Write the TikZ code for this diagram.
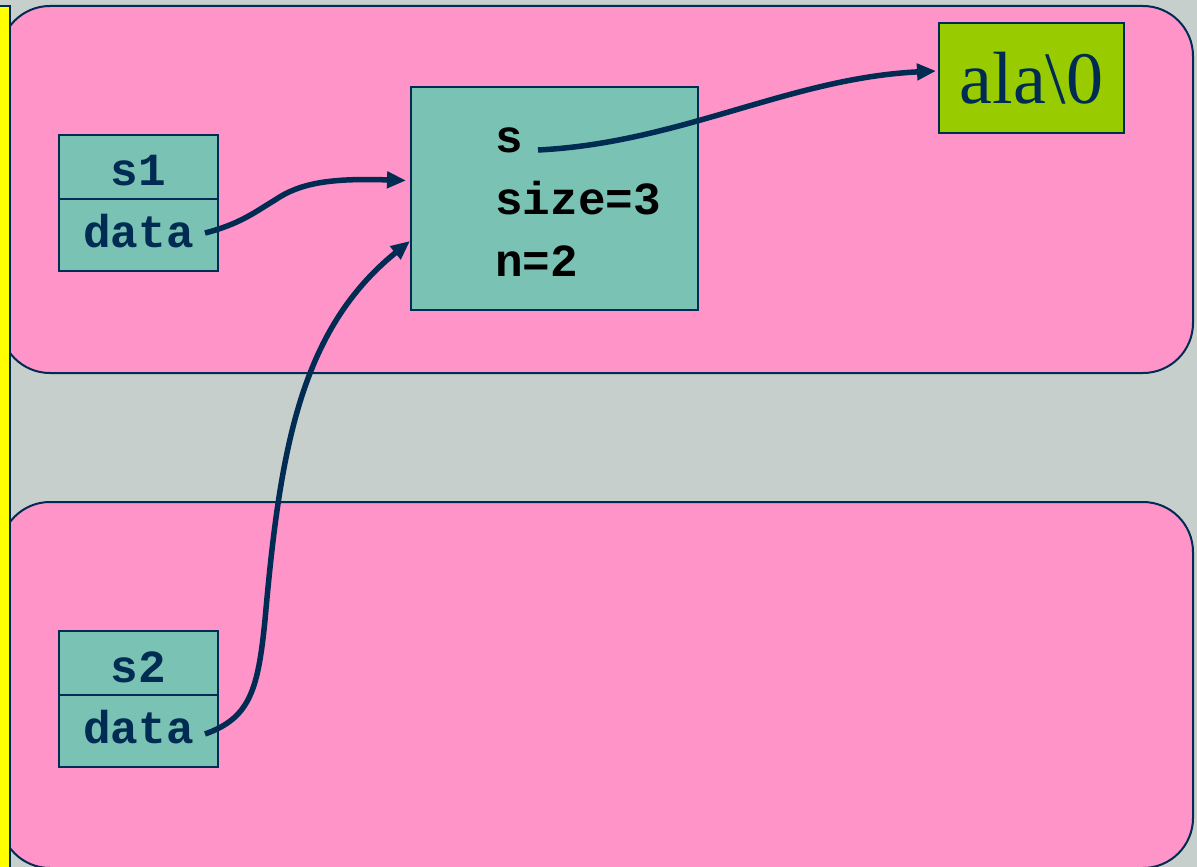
\documentclass[tikz,border=0pt]{standalone}
\usepackage{fontspec}
\setmainfont{Liberation Serif}
\newfontfamily\codefont{Liberation Mono}
\usetikzlibrary{arrows.meta}
\definecolor{bg}{HTML}{C6CFCB}
\definecolor{pinkbox}{HTML}{FF94C8}
\definecolor{tealbox}{HTML}{7AC2B3}
\definecolor{greenbox}{HTML}{99CC00}
\definecolor{navy}{HTML}{002B52}
\definecolor{stripe}{HTML}{FFFF00}
\tikzset{
  region/.style={fill=pinkbox,draw=navy,line width=2pt,rounded corners=50pt},
  cell/.style={draw=navy,line width=2pt,fill=tealbox,minimum width=159pt,minimum height=64pt,inner sep=0pt},
  celltext/.style={font=\codefont\bfseries\fontsize{46}{50}\selectfont,text=navy,inner sep=0pt},
  codetext/.style={font=\codefont\bfseries\fontsize{46}{50}\selectfont,text=black,inner sep=0pt,anchor=base west},
  ptr/.style={draw=navy,line width=5.5pt,-{Triangle[length=19pt,width=16pt]}}
}
\begin{document}
\begin{tikzpicture}[x=1pt,y=-1pt]
\useasboundingbox (0,0) rectangle (1197,867);
\fill[bg] (0,0) rectangle (1197,867);
% regions
\draw[region] (0,6) rectangle (1193,373);
\draw[region] (0,502) rectangle (1193,868);
% left stripe
\draw[fill=stripe,draw=navy,line width=2pt] (-3,6) rectangle (10,870);
% s1 box
\node[cell,anchor=north west] (s1top) at (58,134) {};
\node[cell,anchor=north west,minimum height=72pt] (s1data) at (58,198) {};
\node[celltext] (s1lbl) at ([yshift=-4pt]s1top.center) {s1};
\node[celltext] (d1lbl) at ([yshift=4pt]s1data.center) {data};
% s2 box
\node[cell,anchor=north west] (s2top) at (58,630) {};
\node[cell,anchor=north west,minimum height=72pt] (s2data) at (58,694) {};
\node[celltext] (s2lbl) at ([yshift=-4pt]s2top.center) {s2};
\node[celltext] (d2lbl) at ([yshift=4pt]s2data.center) {data};
% big box
\node[draw=navy,line width=2pt,fill=tealbox,minimum width=287pt,minimum height=223pt,anchor=north west,inner sep=0pt] (str) at (410,86) {};
\node[codetext] (ts) at (495,152) {s};
\node[codetext] (tsize) at (495,214) {size=3};
\node[codetext] (tn) at (495,276) {n=2};
% ala box
\node[draw=navy,line width=2pt,fill=greenbox,minimum width=185pt,minimum height=110pt,anchor=north west,inner sep=0pt,
  font=\fontsize{74}{78}\selectfont,text=navy] (ala) at (938,22) {ala\textbackslash 0};
% connectors
\coordinate (d1) at ([xshift=-14pt,yshift=2pt]s1data.east);
\coordinate (d2) at ([xshift=-14pt,yshift=-3pt]s2data.east);
\coordinate (sp) at (538,150);
\draw[ptr] (d1) .. controls (240,224) and (255,212) .. (275,200) .. controls (300,183) and (330,178) .. ([yshift=18pt,xshift=-4pt]str.west);
\draw[ptr] (d2) .. controls (250,718) and (258,690) .. (265,620) .. controls (280,450) and (300,330) .. ([yshift=-155pt]str.north west);
\draw[ptr] (sp) .. controls (680,143) and (790,78) .. ([xshift=-2pt,yshift=7pt]ala.west);
\end{tikzpicture}
\end{document}
